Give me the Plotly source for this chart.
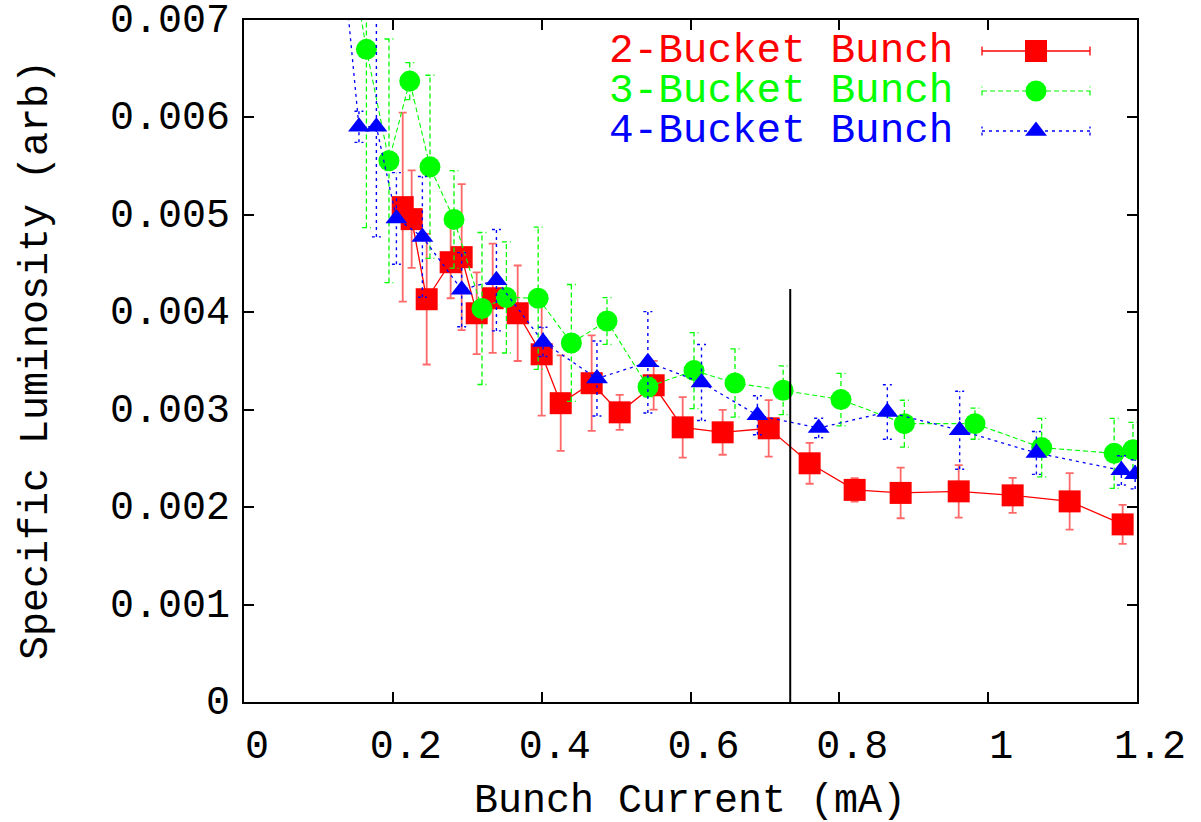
import plotly.graph_objects as go

# ---------------- data ----------------
red_x = [0.2133, 0.2253, 0.2455, 0.2777, 0.2925, 0.3127, 0.3342, 0.3678, 0.4000, 0.4256,
         0.4672, 0.5048, 0.5505, 0.5895, 0.6432, 0.7051, 0.7601, 0.8206, 0.8824, 0.9604,
         1.0329, 1.1095, 1.1807]
red_y = [5.079, 4.956, 4.134, 4.514, 4.566, 3.990, 4.144, 3.990, 3.569, 3.067,
         3.272, 2.973, 3.251, 2.819, 2.768, 2.809, 2.450, 2.177, 2.146, 2.162,
         2.121, 2.059, 1.823]
red_err = [0.97, 0.50, 0.67, 0.37, 0.75, 0.42, 0.56, 0.49, 0.63, 0.49,
           0.49, 0.18, 0.25, 0.31, 0.23, 0.29, 0.21, 0.12, 0.26, 0.27,
           0.18, 0.29, 0.20]

green_x = [0.1445, 0.1645, 0.1948, 0.2227, 0.2499, 0.2822, 0.3198, 0.3526, 0.3953, 0.4399,
           0.4878, 0.5429, 0.6047, 0.6598, 0.7245, 0.8022, 0.8874, 0.9823, 1.0719, 1.1693,
           1.1946]
green_y = [7.6, 6.699, 5.555, 6.373, 5.493, 4.953, 4.039, 4.152, 4.144, 3.685,
           3.911, 3.233, 3.402, 3.274, 3.199, 3.104, 2.857, 2.857, 2.611, 2.552,
           2.590]
green_err = [0.0, 1.83, 1.25, 0.19, 0.94, 0.50, 0.78, 0.57, 0.73, 0.60,
             0.24, 0.10, 0.39, 0.35, 0.25, 0.27, 0.24, 0.16, 0.30, 0.36,
             0.28]

blue_x = [0.1332, 0.1545, 0.1779, 0.2048, 0.2397, 0.2925, 0.3392, 0.4018, 0.4743, 0.5427,
          0.6148, 0.6899, 0.7722, 0.8645, 0.9617, 1.0648, 1.1790, 1.1975]
blue_y = [7.6, 5.904, 5.904, 4.963, 4.774, 4.232, 4.329, 3.696, 3.320, 3.487,
          3.280, 2.943, 2.812, 2.977, 2.789, 2.556, 2.378, 2.337]
blue_err = [0.0, 0.16, 1.13, 0.47, 0.62, 0.38, 0.52, 0.15, 0.385, 0.52,
            0.39, 0.20, 0.10, 0.28, 0.40, 0.22, 0.15, 0.15]

y_scale = 1e-3  # values above are in units of 0.001

threshold_x = [0.734, 0.734]
threshold_y = [0.0, 4.24]

x_tickvals = [0, 0.2, 0.4, 0.6, 0.8, 1.0, 1.2]
x_ticktext = ["0", "0.2", "0.4", "0.6", "0.8", "1", "1.2"]
y_tickvals = [0, 1, 2, 3, 4, 5, 6, 7]
y_ticktext = ["0", "0.001", "0.002", "0.003", "0.004", "0.005", "0.006", "0.007"]

series_names = ["2-Bucket Bunch", "3-Bucket Bunch", "4-Bucket Bunch"]
x_title = "Bunch Current (mA)"
y_title = "Specific Luminosity (arb)"

# ---------------- style ----------------
PAGE_OFF = 0            # body margin removed via post_script
W, H = 1201, 822
ML, MR, MT, MB = 244, 64, 20, 120
PLOT_W = W - ML - MR
PLOT_H = H - MT - MB
X_RANGE = [0, 1.2]
Y_RANGE = [0, 7]
FONT = "Liberation Mono, Courier New, monospace"
TICK_FONT_SIZE = 40
LEGEND_FONT_SIZE = 41
TITLE_FONT_SIZE = 40
RED = "#ff0000"
GREEN = "#00ff00"
BLUE = "#0000ff"
CAP_PX = 4.5

cap_dx = CAP_PX * (X_RANGE[1] - X_RANGE[0]) / PLOT_W


def px_to_paper_x(px):
    return (px - PAGE_OFF - ML) / PLOT_W


def px_to_paper_y(py):
    return (H - MB - (py - PAGE_OFF)) / PLOT_H


def yv(vals):
    return [round(v * y_scale, 9) for v in vals]


def dashed_errorbars(xs, ys, es):
    px, py = [], []
    for x, y, e in zip(xs, ys, es):
        if e <= 0:
            continue
        lo, hi = (y - e) * y_scale, (y + e) * y_scale
        px += [x, x, None, x - cap_dx, x + cap_dx, None, x - cap_dx, x + cap_dx, None]
        py += [lo, hi, None, hi, hi, None, lo, lo, None]
    return px, py


fig = go.Figure()

# red series
fig.add_trace(go.Scatter(
    x=red_x, y=yv(red_y), mode="lines+markers",
    line=dict(color=RED, width=1.3),
    marker=dict(symbol="square", size=22, color=RED, line=dict(width=0)),
    error_y=dict(type="data", array=yv(red_err), visible=True,
                 color="rgba(255,40,40,0.7)", thickness=1.8, width=4),
    showlegend=False, cliponaxis=True))

# green series
gx, gy = dashed_errorbars(green_x, green_y, green_err)
fig.add_trace(go.Scatter(x=gx, y=gy, mode="lines",
                         line=dict(color=GREEN, width=1.3, dash="5px,3px"),
                         showlegend=False, hoverinfo="skip"))
fig.add_trace(go.Scatter(
    x=green_x, y=yv(green_y), mode="lines+markers",
    line=dict(color=GREEN, width=1.1, dash="5px,3px"),
    marker=dict(symbol="circle", size=21, color=GREEN, line=dict(width=0)),
    showlegend=False, cliponaxis=True))

# blue series
bx, by = dashed_errorbars(blue_x, blue_y, blue_err)
fig.add_trace(go.Scatter(x=bx, y=by, mode="lines",
                         line=dict(color=BLUE, width=1.4, dash="3px,4px"),
                         showlegend=False, hoverinfo="skip"))
fig.add_trace(go.Scatter(
    x=blue_x, y=yv(blue_y), mode="lines+markers",
    line=dict(color=BLUE, width=1.3, dash="3px,4px"),
    marker=dict(symbol="triangle-up", size=19, color=BLUE, line=dict(width=0)),
    showlegend=False, cliponaxis=True))

# vertical threshold line
fig.add_trace(go.Scatter(x=threshold_x, y=yv(threshold_y), mode="lines",
                         line=dict(color="black", width=2), showlegend=False))

# ---------------- custom legend (pixel overlay axes) ----------------
LEG_TEXT_RIGHT = 955
LEG_X0, LEG_X1, LEG_XC = 982, 1090, 1036
LEG_ROWS = [51, 91, 131]
leg_styles = [
    dict(color=RED, dash="solid", symbol="square", size=22, width=1.3),
    dict(color=GREEN, dash="5px,3px", symbol="circle", size=21, width=1.2),
    dict(color=BLUE, dash="3px,4px", symbol="triangle-up", size=19, width=1.3),
]
for row, st, name in zip(LEG_ROWS, leg_styles, series_names):
    yy = H - MB - (row - PAGE_OFF)
    x0, x1, xc = (LEG_X0 - PAGE_OFF - ML), (LEG_X1 - PAGE_OFF - ML), (LEG_XC - PAGE_OFF - ML)
    fig.add_trace(go.Scatter(
        x=[x0, x1, None, x0, x0, None, x1, x1],
        y=[yy, yy, None, yy - CAP_PX, yy + CAP_PX, None, yy - CAP_PX, yy + CAP_PX],
        mode="lines", line=dict(color=st["color"], width=st["width"], dash=st["dash"]),
        xaxis="x2", yaxis="y2", showlegend=False, hoverinfo="skip"))
    fig.add_trace(go.Scatter(
        x=[xc], y=[yy], mode="markers",
        marker=dict(symbol=st["symbol"], size=st["size"], color=st["color"], line=dict(width=0)),
        xaxis="x2", yaxis="y2", showlegend=False, hoverinfo="skip", cliponaxis=False))
    fig.add_annotation(x=px_to_paper_x(LEG_TEXT_RIGHT), y=px_to_paper_y(row),
                       xref="paper", yref="paper", xanchor="right", yanchor="middle",
                       text=name, showarrow=False,
                       font=dict(family=FONT, size=LEGEND_FONT_SIZE, color=st["color"]))

# axis titles as annotations
fig.add_annotation(x=px_to_paper_x(690), y=px_to_paper_y(801), xref="paper", yref="paper",
                   text=x_title, showarrow=False, xanchor="center", yanchor="middle",
                   font=dict(family=FONT, size=TITLE_FONT_SIZE, color="black"))
fig.add_annotation(x=px_to_paper_x(36), y=px_to_paper_y(360), xref="paper", yref="paper",
                   text=y_title, showarrow=False, textangle=-90, xanchor="center", yanchor="middle",
                   font=dict(family=FONT, size=TITLE_FONT_SIZE, color="black"))

axis_common = dict(showgrid=False, zeroline=False, showline=True, linecolor="black",
                   linewidth=2, mirror="allticks", ticks="inside", ticklen=10,
                   tickwidth=1.5, tickcolor="black", ticklabeloverflow="allow",
                   tickfont=dict(family=FONT, size=TICK_FONT_SIZE, color="black"))

fig.update_layout(
    width=W, height=H,
    margin=dict(l=ML, r=MR, t=MT, b=MB, autoexpand=False),
    paper_bgcolor="white", plot_bgcolor="white",
    xaxis=dict(range=X_RANGE, tickvals=x_tickvals, ticktext=x_ticktext,
               ticklabelshift=13, ticklabelstandoff=6, **axis_common),
    yaxis=dict(range=[Y_RANGE[0] * y_scale, Y_RANGE[1] * y_scale],
               tickvals=yv(y_tickvals), ticktext=y_ticktext,
               ticklabelstandoff=4, ticklabelshift=-2, **axis_common),
    xaxis2=dict(range=[0, PLOT_W], overlaying="x", visible=False, fixedrange=True),
    yaxis2=dict(range=[0, PLOT_H], overlaying="y", visible=False, fixedrange=True),
)

fig.write_html("out.html", config=dict(displayModeBar=False),
               post_script="document.body.style.margin='0';document.body.style.overflow='hidden';")
